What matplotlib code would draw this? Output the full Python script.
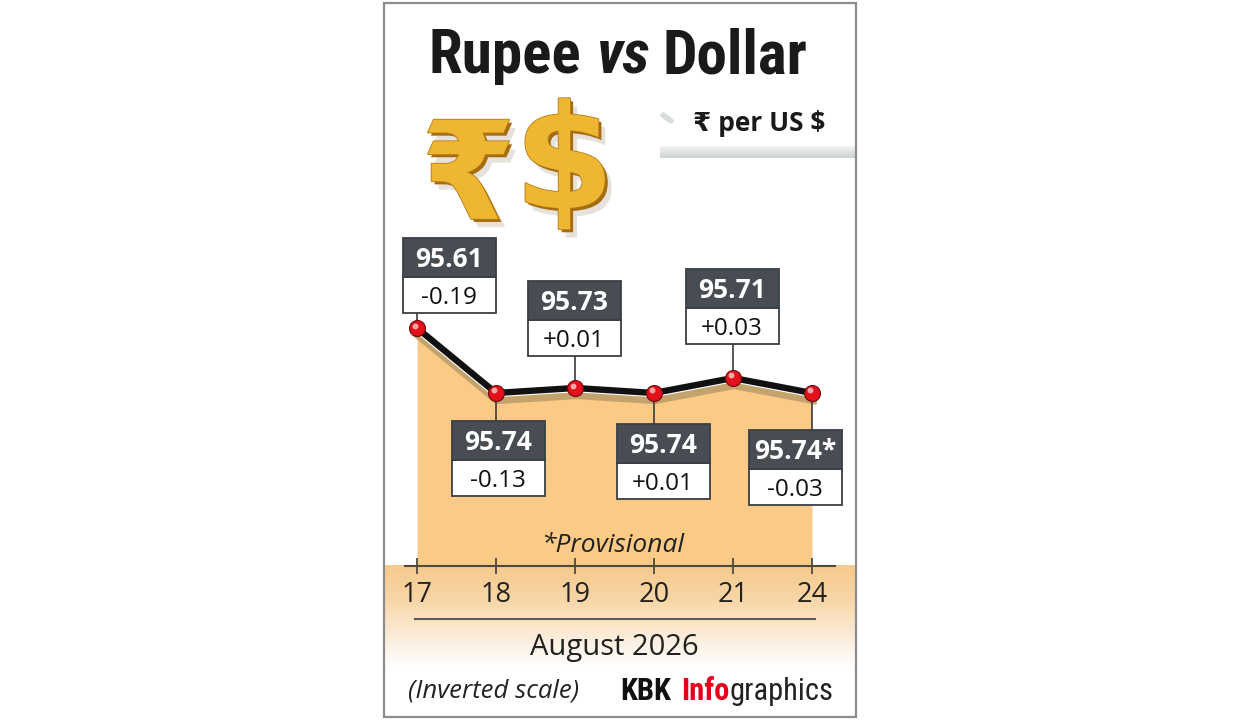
import numpy as np
import matplotlib
matplotlib.use("Agg")
import matplotlib.pyplot as plt
import matplotlib.patheffects as pe
from matplotlib import font_manager
from matplotlib.patches import Rectangle
from matplotlib.lines import Line2D
from matplotlib.colors import LinearSegmentedColormap
from matplotlib.transforms import Affine2D, ScaledTranslation, offset_copy

# ---- data ----
days = ["17", "18", "19", "20", "21", "24"]
rates = [95.61, 95.74, 95.73, 95.74, 95.71, 95.74]
rate_labels = ["95.61", "95.74", "95.73", "95.74", "95.71", "95.74*"]
changes = ["-0.19", "-0.13", "+0.01", "+0.01", "+0.03", "-0.03"]
month = "August 2026"

# label boxes (pixels): shift from the point and gap (+ above / - below)
box_dx = [32, 2, -1, 9, -1, -17]
box_gap = [15, -28, 32, -31, 34, -37]
BOX_W, TOP_H, BOT_H = 93, 39, 36

W, H = 1240, 720
installed = {f.name for f in font_manager.fontManager.ttflist}
SANS = ["Open Sans", "DejaVu Sans"]
NARROW = next((f for f in ["Roboto Condensed", "Open Sans Condensed", "Liberation Sans Narrow",
                           "DejaVu Sans Condensed", "Roboto"] if f in installed), "DejaVu Sans")


def fx(x):
    return x / W


def fy(y):
    return 1 - y / H


fig = plt.figure(figsize=(W / 100, H / 100), dpi=100)
fig.patch.set_facecolor("white")

# background layer in pixel coordinates
bg = fig.add_axes([0, 0, 1, 1])
bg.axis("off")
bg.add_patch(Rectangle((384, 3), 472, 714, fill=False, ec="#8c8c8c", lw=1.6))
band = LinearSegmentedColormap.from_list("band", ["#f6c98c", "#f8d6a6", "#fcebd6", "#ffffff"])
bg.imshow(np.linspace(0, 1, 100)[:, None], extent=(385, 855, 668, 565),
          cmap=band, aspect="auto", zorder=0)
bar = LinearSegmentedColormap.from_list("bar", ["#f2f3f3", "#dfe2e2", "#cfd3d3"])
bg.imshow(np.linspace(0, 1, 20)[:, None], extent=(660, 855, 158, 146),
          cmap=bar, aspect="auto", zorder=0)
bg.plot([663, 671], [115, 121], color="#d9dcdc", lw=4, solid_capstyle="round")
bg.plot([415, 815], [619, 619], color="#5a5c55", lw=1.5)
bg.set_xlim(0, W)
bg.set_ylim(H, 0)

# ---- chart ----
ax = fig.add_axes([fx(384), fy(566), fx(472), (566 - 220) / H])
ax.patch.set_alpha(0)
xs = np.arange(len(days))
ybottom = 96.086
ax.set_xlim(-33 / 79, 5 + 44 / 79)
ax.set_ylim(ybottom, 95.394)  # inverted scale

ax.fill_between(xs, rates, ybottom, color="#fbca86", lw=0, zorder=1)
ax.plot(xs, rates, color="#111111", lw=4.6, zorder=3,
        path_effects=[pe.SimpleLineShadow(offset=(0.8, -5.0), shadow_color="#c3a36b", alpha=1,
                                          linewidth=6.0),
                      pe.Stroke(linewidth=6.2, foreground="white"), pe.Normal()])
ax.plot(xs, rates, "o", ms=11.5, mfc="#e3111b", mec="#70090c", mew=0.8, zorder=5)
ax.plot(xs, rates, "o", ms=3.2, color="#ffb3b3", alpha=0.9, zorder=6,
        transform=offset_copy(ax.transData, fig, x=-1.8, y=1.8, units="points"))

for side in ["left", "right", "top"]:
    ax.spines[side].set_visible(False)
ax.spines["bottom"].set_bounds(-12 / 79, 5 + 23 / 79)
ax.spines["bottom"].set_color("#4d4a3c")
ax.spines["bottom"].set_linewidth(1.5)
ax.set_yticks([])
ax.set_xticks(xs, days)
ax.tick_params(axis="x", direction="inout", length=11, width=1.3, color="#4d4a3c",
               pad=5, labelsize=19.5, labelcolor="#222222")
for lbl in ax.get_xticklabels():
    lbl.set_family(SANS)

# value / change boxes
for i in range(len(days)):
    t = Affine2D().scale(1 / 100) + fig.dpi_scale_trans + ScaledTranslation(xs[i], rates[i], ax.transData)
    dx, gap = box_dx[i], box_gap[i]
    if gap > 0:
        white_y = gap
        dark_y = gap + BOT_H
        line = [0, gap]
    else:
        dark_y = gap - TOP_H
        white_y = dark_y - BOT_H
        line = [gap, 0]
    ax.add_line(Line2D([0, 0], line, transform=t, color="#3a3a3a", lw=1.2, zorder=4, clip_on=False))
    ax.add_patch(Rectangle((dx - BOX_W / 2, white_y), BOX_W, BOT_H, transform=t, fc="white",
                           ec="#3a3f44", lw=1.3, zorder=7, clip_on=False))
    ax.add_patch(Rectangle((dx - BOX_W / 2, dark_y), BOX_W, TOP_H, transform=t, fc="#474d52",
                           ec="#3a3f44", lw=1.3, zorder=7, clip_on=False))
    ax.text(dx, dark_y + TOP_H / 2 - 9.4, rate_labels[i], transform=t, ha="center", va="baseline",
            fontsize=19, weight="bold", color="white", family=SANS, zorder=8, clip_on=False)
    ax.text(dx, white_y + BOT_H / 2 - 8.7, changes[i], transform=t, ha="center", va="baseline",
            fontsize=17.5, color="#111111", family=SANS, zorder=8, clip_on=False)


# ---- text ----
def text_row(pieces, x, y, center=False):
    r = fig.canvas.get_renderer()
    arts = []
    for s, gap, kw in pieces:
        arts.append((fig.text(0, fy(y), s, va="baseline", **kw), gap))
    widths = [a.get_window_extent(r).width + g for a, g in arts]
    start = x - (sum(widths) - arts[-1][1]) / 2 if center else x
    for (a, g), w in zip(arts, widths):
        a.set_x(fx(start))
        start += w
    return arts


title_kw = dict(fontsize=44, weight="bold", color="#1a1a1a", family=NARROW)
text_row([("Rupee", 16, title_kw),
          ("vs", 12, dict(title_kw, style="italic")),
          ("Dollar", 0, title_kw)], 618, 73, center=True)

# gold currency symbols (mathtext keeps their boxes tight to the glyphs)
gold = [pe.SimplePatchShadow(offset=(5, -6), shadow_rgbFace="#d6d0c4", alpha=0.6),
        pe.SimplePatchShadow(offset=(2.2, -2.2), shadow_rgbFace="#a56c10", alpha=1),
        pe.Stroke(linewidth=1.2, foreground="#b47c16"), pe.Normal()]
fig.text(fx(421), fy(219), "$\\mathbf{\u20b9}$", fontsize=98, color="#efb632",
         math_fontfamily="dejavusans", va="baseline", path_effects=gold)
fig.text(fx(514), fy(208), "$\\mathbf{\\$}$", fontsize=104, color="#efb632",
         math_fontfamily="dejavusans", va="baseline", path_effects=gold)

fig.text(fx(693), fy(131), "\u20b9 per US $", fontsize=19, weight="bold", color="#1a1a1a",
         family=SANS, va="baseline")

fig.text(fx(613), fy(552), "*Provisional", fontsize=19, style="italic", color="#222222",
         family=SANS, ha="center", va="baseline")
fig.text(fx(614), fy(655), month, fontsize=21, color="#222222", family=SANS,
         ha="center", va="baseline")
fig.text(fx(408), fy(698), "(Inverted scale)", fontsize=18.5, style="italic", color="#222222",
         family=SANS, va="baseline")
foot_kw = dict(fontsize=22, family=NARROW)
text_row([("KBK", 10, dict(foot_kw, weight="bold", color="#111111")),
          ("Info", 0, dict(foot_kw, weight="bold", color="#e3001b")),
          ("graphics", 0, dict(foot_kw, color="#222222"))], 620, 700)

fig.savefig("out.png", dpi=100, facecolor="white")
